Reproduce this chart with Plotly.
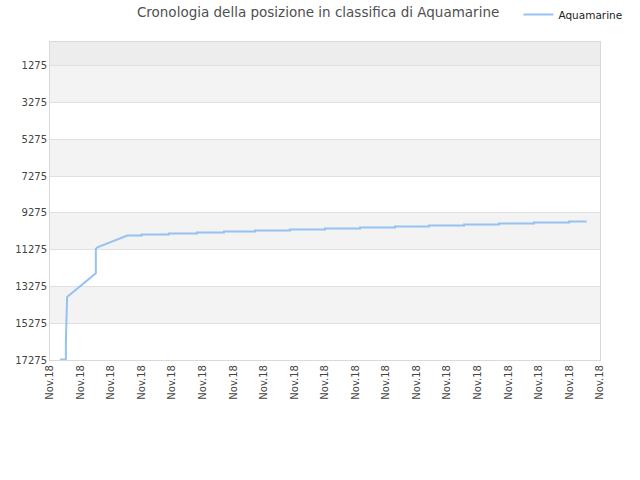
import plotly.graph_objects as go

# x positions are in tick-slot units (19 ticks, all labelled "Nov.18")
tick_labels = ["Nov.18"] * 19
rank_ticks = [1275, 3275, 5275, 7275, 9275, 11275, 13275, 15275, 17275]

# first days: fast climb
early_x = [0.33, 0.52, 0.52, 0.54, 0.56, 1.50, 1.50, 1.50, 1.55, 2.53]
early_rank = [17247, 17247, 16193, 15058, 13852, 12555, 11490, 11236, 11150, 10505]

# then a slow staircase: boundaries and the rank held between them
step_x = [2.53, 3.00, 3.89, 4.81, 5.69, 6.71, 7.85, 9.00, 10.15,
          11.29, 12.40, 13.55, 14.69, 15.84, 16.99, 17.56]
step_rank = [10502, 10448, 10394, 10340, 10286, 10232, 10178, 10124,
             10070, 10015, 9961, 9907, 9853, 9799, 9745]


def main():
    xs = list(early_x)
    ys = list(early_rank)
    for i, r in enumerate(step_rank):
        xs += [step_x[i], step_x[i + 1]]
        ys += [r, r]

    fig = go.Figure(
        go.Scatter(
            x=xs,
            y=ys,
            mode="lines",
            name="Aquamarine",
            line=dict(color="#94c2f2", width=2),
            hoverinfo="skip",
        )
    )

    # alternating background bands
    bands = [(-22, 1275, "#ededed")]
    for i in range(len(rank_ticks) - 1):
        if i % 2 == 0:
            bands.append((rank_ticks[i], rank_ticks[i + 1], "#f3f3f3"))
    for y0, y1, col in bands:
        fig.add_shape(type="rect", xref="paper", yref="y", x0=0, x1=1, y0=y0, y1=y1,
                      fillcolor=col, line_width=0, layer="below")

    fig.update_layout(
        width=640,
        height=480,
        margin=dict(l=50, r=40, t=40, b=120),
        paper_bgcolor="white",
        plot_bgcolor="white",
        font=dict(family="DejaVu Sans", size=10, color="#444444"),
        title=dict(
            text="Cronologia della posizione in classifica di Aquamarine",
            x=0.497, xanchor="center", y=0.975, yanchor="middle",
            font=dict(size=13.5, color="#505050"),
        ),
        showlegend=True,
        legend=dict(
            orientation="h", x=0.81, xanchor="left", y=1.0, yanchor="top",
            xref="container", yref="container",
            font=dict(size=10.5, color="#222222"),
            bgcolor="rgba(0,0,0,0)",
        ),
        xaxis=dict(
            range=[0, 18],
            tickmode="array",
            tickvals=list(range(19)),
            ticktext=tick_labels,
            tickangle=-90,
            showgrid=False,
            zeroline=False,
            showline=True,
            mirror=True,
            linecolor="#d9d9d9",
            linewidth=1,
            ticks="",
        ),
        yaxis=dict(
            range=[17275, -22],
            tickmode="array",
            tickvals=rank_ticks,
            ticktext=[str(v) for v in rank_ticks],
            showgrid=True,
            gridcolor="#e0e0e0",
            zeroline=False,
            showline=True,
            mirror=True,
            linecolor="#d9d9d9",
            linewidth=1,
            ticks="",
        ),
    )

    # drop the page's default body margin so the chart sits at the window corner
    fig.write_html(
        "out.html",
        config={"displayModeBar": False},
        post_script="document.body.style.margin='0';",
    )


if __name__ == "__main__":
    main()
